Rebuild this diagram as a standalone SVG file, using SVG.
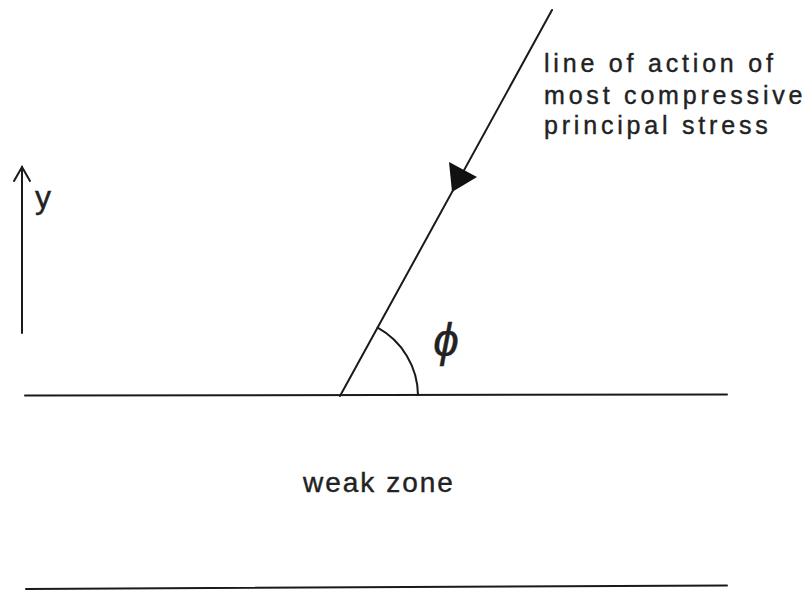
<svg xmlns="http://www.w3.org/2000/svg" width="810" height="593" viewBox="0 0 810 593">
<style>
.ln{stroke:#1a1a1a;stroke-width:2;fill:none;stroke-linecap:round}
.t{font-family:"Liberation Sans",Arial,sans-serif;fill:#222;stroke:#222;stroke-width:0.4}
</style>
<rect width="810" height="593" fill="#fff"/>
<g id="axis">
<line class="ln" x1="22" y1="333" x2="22" y2="167" stroke-width="1.6"/>
<polyline class="ln" points="14,181 22,167 30,181" stroke-width="1.6"/>
<text class="t" x="35" y="208" font-size="32">y</text>
</g>
<g id="weak-zone-boundaries">
<line class="ln" x1="25" y1="395.5" x2="727" y2="394.5" stroke-width="2.5"/>
<line class="ln" x1="26" y1="589" x2="727" y2="585.5" stroke-width="3"/>
<text class="t" x="303" y="492" font-size="28" letter-spacing="2">weak zone</text>
</g>
<g id="stress-line">
<line class="ln" x1="340" y1="396" x2="552" y2="10"/>
<polygon points="449,162 477,177 452,192" fill="#111"/>
<path class="ln" d="M418,395 A78,78 0 0 0 377.6,327.7"/>
<text class="t" x="446" y="356" font-size="46" font-style="italic" text-anchor="middle">ϕ</text>
</g>
<g id="label">
<text class="t" font-size="25" letter-spacing="3.8">
<tspan x="544" y="72">line of action of</tspan>
<tspan x="544" y="104">most compressive</tspan>
<tspan x="544" y="134">principal stress</tspan>
</text>
</g>
</svg>
